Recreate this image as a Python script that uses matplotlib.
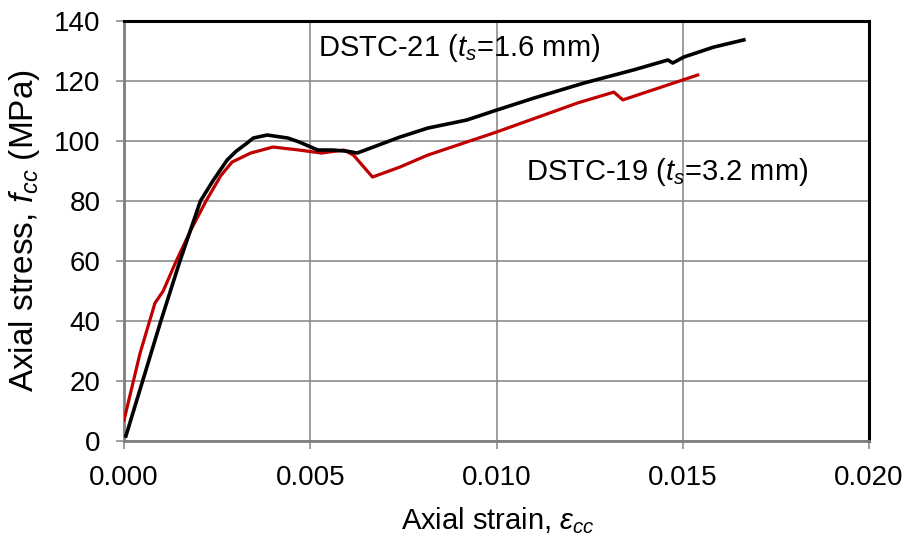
import numpy as np
import matplotlib
matplotlib.use('Agg')
import matplotlib.pyplot as plt
from matplotlib.ticker import FormatStrFormatter

plt.rcParams['font.family'] = ['Liberation Sans', 'DejaVu Sans']
plt.rcParams['mathtext.fontset'] = 'custom'
plt.rcParams['mathtext.rm'] = 'Liberation Sans'
plt.rcParams['mathtext.it'] = 'Liberation Sans:italic'

# DSTC-21 (ts = 1.6 mm)
strain21 = [0.00005, 0.0004, 0.00097, 0.0015, 0.00205, 0.0024, 0.00277, 0.0030, 0.0033,
            0.00347, 0.00384, 0.0044, 0.0047, 0.0052, 0.0056, 0.0060, 0.00626, 0.0068,
            0.0074, 0.00815, 0.0092, 0.0100, 0.0110, 0.01234, 0.01368, 0.0146, 0.01473,
            0.01503, 0.01583, 0.01664]
stress21 = [1.7, 16.0, 39.3, 60.0, 80.0, 87.0, 93.7, 96.5, 99.3,
            101.0, 102.0, 101.0, 99.7, 97.0, 97.0, 96.6, 96.0, 98.5,
            101.3, 104.3, 107.0, 110.3, 114.3, 119.3, 123.7, 127.0, 126.0,
            128.0, 131.3, 133.7]

# DSTC-19 (ts = 3.2 mm)
strain19 = [0.0, 0.00043, 0.00083, 0.00105, 0.0014, 0.0018, 0.0022, 0.0026, 0.0029,
            0.0034, 0.0040, 0.0047, 0.0053, 0.0059, 0.00616, 0.00667, 0.0074, 0.00815,
            0.0100, 0.01218, 0.01315, 0.01339, 0.0154]
stress19 = [7.0, 29.3, 46.0, 50.0, 60.0, 70.5, 80.0, 88.5, 93.0,
            96.0, 98.0, 97.0, 96.0, 97.0, 95.3, 88.0, 91.3, 95.3,
            103.0, 112.7, 116.3, 113.7, 122.0]

fig = plt.figure(figsize=(9.1, 5.38), dpi=100)
ax = fig.add_axes([0.1363, 0.180, 0.8187, 0.781])

ax.plot(strain19, stress19, color='#C00000', lw=2.3, solid_joinstyle='round', zorder=3)
ax.plot(strain21, stress21, color='black', lw=2.6, solid_joinstyle='round', zorder=4)

ax.set_xlim(0, 0.020)
ax.set_ylim(0, 140)
ax.set_xticks(np.arange(0, 0.0201, 0.005))
ax.set_yticks(np.arange(0, 141, 20))
ax.xaxis.set_major_formatter(FormatStrFormatter('%.3f'))
ax.grid(True, color='#8c8c8c', lw=1.2, zorder=0)
ax.set_axisbelow(True)

for s in ['left', 'bottom']:
    ax.spines[s].set_color('#7f7f7f')
    ax.spines[s].set_linewidth(2.0)
for s in ['top', 'right']:
    ax.spines[s].set_color('black')
    ax.spines[s].set_linewidth(2.2)

ax.tick_params(axis='both', direction='out', length=6, width=1.2, color='#8c8c8c',
               labelsize=20, pad=11)

ax.set_xlabel(r'Axial strain, $\varepsilon_{cc}$', fontsize=21)
ax.set_ylabel(r'Axial stress, $f_{cc}$ (MPa)', fontsize=24)
ax.xaxis.set_label_coords(0.501, -0.152)
ax.yaxis.set_label_coords(-0.110, 0.5)

ax.text(0.00522, 131, r'DSTC-21 ($t_s$=1.6 mm)', fontsize=21, va='center', ha='left')
ax.text(0.01080, 89.7, r'DSTC-19 ($t_s$=3.2 mm)', fontsize=21, va='center', ha='left')

fig.savefig('out.png', dpi=100)
